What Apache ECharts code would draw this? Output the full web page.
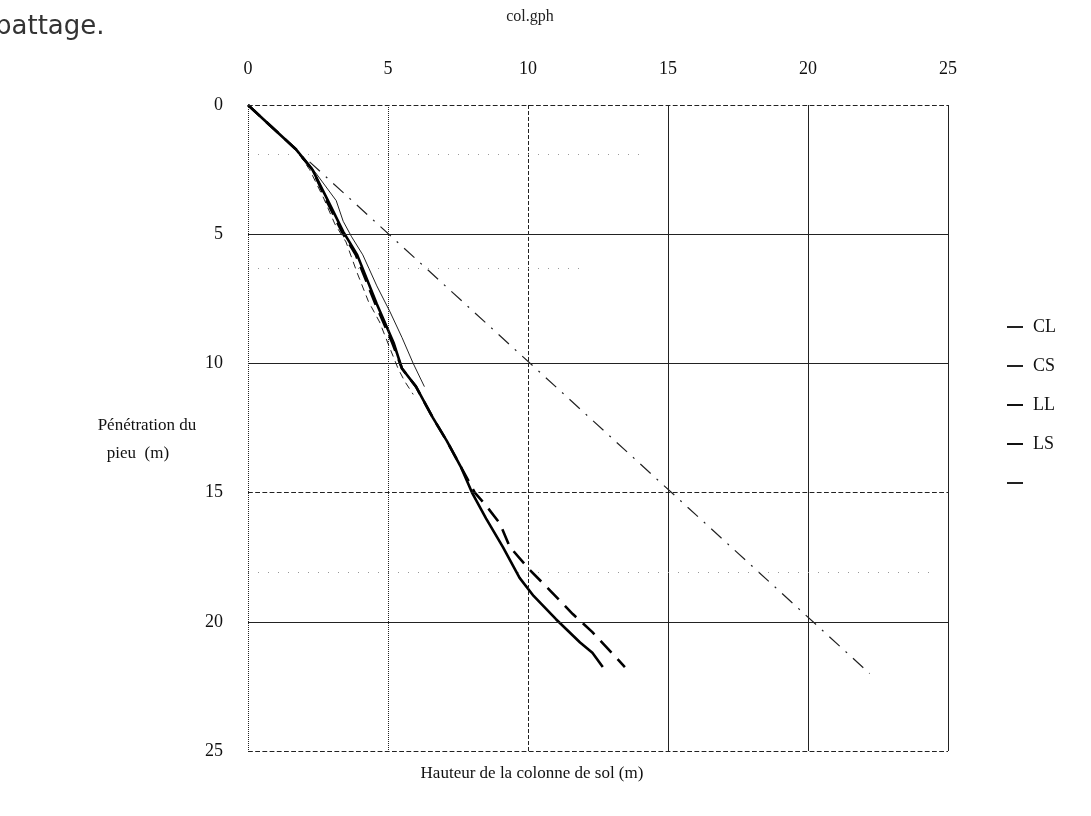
<!DOCTYPE html>
<html>
<head>
<meta charset="utf-8">
<script src="https://cdn.jsdelivr.net/npm/echarts@6/dist/echarts.min.js"></script>
<style>
html,body{margin:0;padding:0;background:#fff;}
#chart{width:1091px;height:816px;}
</style>
</head>
<body>
<div id="chart"></div>
<script>
// Tick labels
const xTicks = [0, 5, 10, 15, 20, 25];
const yTicks = [0, 5, 10, 15, 20, 25];
// Series names
const seriesNames = ['CL', 'CS', 'LL', 'LS', ' '];
// [hauteur (x), penetration (y)]
const CL = [[0,0],[0.8,0.8],[1.7,1.7],[2.4,2.6],[3.15,3.7],[3.4,4.5],[3.7,5.1],[4.1,5.8],[4.6,7.0],[5.07,8.0],[5.5,9.0],[5.9,10.0],[6.3,10.9]];
const CS = [[0,0],[0.8,0.8],[1.7,1.7],[2.2,2.5],[2.7,3.6],[3.1,4.6],[3.5,5.3],[3.9,6.5],[4.3,7.6],[4.7,8.4],[5.1,9.5],[5.36,10.2],[5.6,10.7],[5.9,11.2]];
const LL = [[0,0],[0.8,0.8],[1.7,1.7],[2.3,2.5],[2.9,3.8],[3.4,4.9],[3.9,5.8],[4.6,7.7],[5.2,9.2],[5.5,10.2],[6.0,10.9],[6.6,12.1],[7.1,13.0],[7.6,14.0],[8.0,15.0],[8.5,16.0],[9.1,17.1],[9.7,18.3],[10.2,19.0],[11.0,19.9],[11.86,20.8],[12.3,21.2],[12.67,21.75]];
const LS = [[0,0],[0.8,0.8],[1.7,1.7],[2.3,2.5],[2.85,3.8],[3.35,4.9],[3.85,5.8],[4.55,7.7],[5.15,9.2],[5.5,10.2],[6.0,10.9],[6.6,12.1],[7.1,13.0],[7.6,14.0],[8.1,15.0],[8.5,15.5],[9.0,16.2],[9.35,17.1],[10.07,18.0],[10.8,18.8],[11.6,19.7],[12.3,20.4],[12.9,21.1],[13.46,21.75]];
const ONE = [[2.2,2.2],[22.2,22.0]];
// Grid lines
const vGrid = [0, 5, 10, 15, 20, 25];
const hGrid = [0, 5, 10, 15, 20, 25];
// faint ghost dotted lines of the scan: [y, xStart, xEnd]
const ghostLines = [[1.9, 0, 14], [6.3, -2, 12], [18.1, -5, 24.5]];

const vStyles = ['dotted','dotted','dashed','solid','solid','solid'];
const hStyles = ['dashed','solid','solid','dashed','solid','dashed'];

const chart = echarts.init(document.getElementById('chart'), null, {renderer:'canvas'});
const serif = 'Liberation Serif';

const gridMarks = [];
vGrid.forEach((v,i)=>gridMarks.push({xAxis:v, lineStyle:{type:vStyles[i], color:'#222', width:1}}));
hGrid.forEach((v,i)=>gridMarks.push({yAxis:v, lineStyle:{type:hStyles[i], color:'#222', width:1.2}}));
ghostLines.forEach(g=>gridMarks.push([
  {coord:[Math.max(g[1],0), g[0]], lineStyle:{type:[1,9], color:'#999', width:1}},
  {coord:[g[2], g[0]]}
]));

const option = {
  backgroundColor:'#fff',
  animation:false,
  grid:{left:248, top:105, right:143, bottom:65, containLabel:false},
  xAxis:{type:'value', position:'top', min:0, max:25, interval:5,
    axisLine:{show:false}, axisTick:{show:false}, splitLine:{show:false},
    axisLabel:{margin:27, fontFamily:serif, fontSize:18, color:'#111'}},
  yAxis:{type:'value', inverse:true, min:0, max:25, interval:5,
    axisLine:{show:false}, axisTick:{show:false}, splitLine:{show:false},
    axisLabel:{margin:25, fontFamily:serif, fontSize:18, color:'#111'}},
  legend:{orient:'vertical', left:1002, top:313, itemGap:21, itemWidth:16, itemHeight:2,
    textStyle:{fontFamily:serif, fontSize:18, color:'#111', padding:[0,0,0,5]},
    data:[
      {name:'CL', icon:'rect', itemStyle:{color:'#222'}},
      {name:'CS', icon:'rect', itemStyle:{color:'#222'}},
      {name:'LL', icon:'rect', itemStyle:{color:'#111'}},
      {name:'LS', icon:'rect', itemStyle:{color:'#111'}},
      {name:' ', icon:'rect', itemStyle:{color:'#222'}}
    ]},
  graphic:[
    {type:'text', x:530, y:9, style:{text:'col.gph', font:'16px "Liberation Serif"', fill:'#222', align:'center'}},
    {type:'text', x:532, y:765, style:{text:'Hauteur de la colonne de sol (m)', font:'17px "Liberation Serif"', fill:'#111', align:'center'}},
    {type:'text', x:147, y:417, style:{text:'Pénétration du', font:'17px "Liberation Serif"', fill:'#111', align:'center'}},
    {type:'text', x:138, y:445, style:{text:'pieu  (m)', font:'17px "Liberation Serif"', fill:'#111', align:'center'}},
    {type:'text', x:-5, y:14, style:{text:'battage.', font:'26px "DejaVu Sans"', fill:'#333'}}
  ],
  series:[
    {name:'grid', type:'line', data:[], silent:true,
      markLine:{symbol:['none','none'], silent:true, label:{show:false}, data:gridMarks}},
    {name:seriesNames[0], type:'line', data:CL, showSymbol:false, symbol:'none', lineStyle:{color:'#222', width:1}},
    {name:seriesNames[1], type:'line', data:CS, showSymbol:false, symbol:'none', lineStyle:{color:'#222', width:1, type:[7,5]}},
    {name:seriesNames[2], type:'line', data:LL, showSymbol:false, symbol:'none', lineStyle:{color:'#000', width:2.6}},
    {name:seriesNames[3], type:'line', data:LS, showSymbol:false, symbol:'none', lineStyle:{color:'#000', width:2.6, type:[16,9]}},
    {name:seriesNames[4], type:'line', data:ONE, showSymbol:false, symbol:'none', lineStyle:{color:'#222', width:1.2, type:[14,8,2,8]}}
  ]
};
chart.setOption(option);
</script>
</body>
</html>
